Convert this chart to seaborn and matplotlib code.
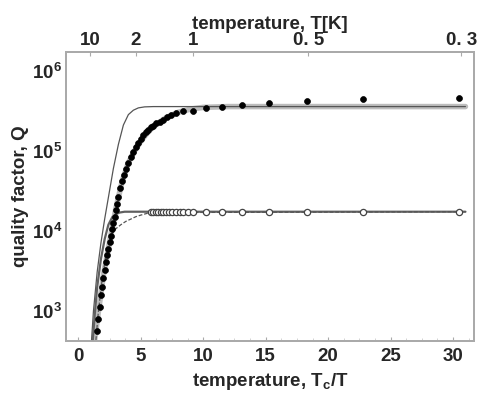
import numpy as np
import pandas as pd
import matplotlib
matplotlib.use("Agg")
import matplotlib.pyplot as plt
import seaborn as sns

sns.set_style("white")
plt.rcParams['font.family'] = ['Liberation Sans', 'DejaVu Sans']
plt.rcParams['font.weight'] = 'bold'
plt.rcParams['mathtext.fontset'] = 'custom'
plt.rcParams['mathtext.rm'] = 'Liberation Sans:bold'
plt.rcParams['mathtext.it'] = 'Liberation Sans:bold'
plt.rcParams['mathtext.bf'] = 'Liberation Sans:bold'

# ---- data (x = Tc/T, Q) ----
filled_x = [1.5, 1.6, 1.7, 1.8, 1.9, 2.0, 2.1, 2.2, 2.3, 2.4, 2.5, 2.6, 2.7, 2.8, 2.9,
            3.0, 3.1, 3.2, 3.35, 3.5, 3.65, 3.8, 4.0, 4.2, 4.4, 4.6, 4.8, 5.0, 5.2, 5.4,
            5.6, 5.8, 6.0, 6.25, 6.5, 6.8, 7.1, 7.4, 7.8, 8.4, 9.2, 10.2, 11.5, 13.1,
            15.3, 18.3, 22.8, 30.5]
filled_q = [562, 794, 1122, 1585, 1995, 2630, 3311, 4169, 5012, 6026, 7244, 8710, 10470,
            12590, 15140, 18200, 21880, 26300, 33900, 41700, 50100, 58900, 70800, 83200,
            97700, 112000, 126000, 141000, 155000, 170000, 182000, 195000, 204000, 219000,
            229000, 245000, 263000, 275000, 295000, 309000, 316000, 339000, 355000, 372000,
            398000, 417000, 437000, 457000]

open_x = [5.8, 6.0, 6.2, 6.4, 6.6, 6.8, 7.0, 7.25, 7.5, 7.8, 8.1, 8.4, 8.8, 9.2, 10.2,
          11.5, 13.1, 15.3, 18.3, 22.8, 30.5]
open_q = [17200, 17300, 17300, 17400, 17400, 17400, 17400, 17400, 17400, 17400, 17400,
          17400, 17400, 17400, 17400, 17400, 17400, 17400, 17400, 17400, 17400]

# fit curves
fitA_x = [1.05, 1.2, 1.5, 1.8, 2.1, 2.4, 2.8, 3.2, 3.6, 4.0, 4.4, 4.8, 5.3, 6.0, 31.0]
fitA_q = [440, 1000, 3090, 7080, 14100, 26300, 60300, 120000, 209000, 282000, 320000,
          342000, 352000, 355000, 355000]
fitB_x = [1.3, 1.6, 2.0, 2.5, 3.0, 3.5, 4.0, 4.5, 5.0, 5.5, 6.0, 7.0, 8.0, 9.0, 10.0, 12.0, 31.0]
fitB_q = [440, 1000, 2820, 7410, 19100, 41700, 70800, 100000, 132000, 166000, 200000,
          257000, 302000, 331000, 347000, 355000, 355000]
fitC_x = [1.15, 1.3, 1.5, 1.8, 2.1, 2.4, 2.7, 3.0, 3.3, 3.7, 4.5, 6.0, 31.0]
fitC_q = [440, 890, 2000, 4470, 7940, 12000, 14800, 16200, 17000, 17400, 17400, 17400, 17400]
fitD_x = [1.4, 1.6, 1.9, 2.2, 2.6, 3.0, 3.4, 3.8, 4.2, 4.6, 5.0, 5.5, 6.5, 31.0]
fitD_q = [440, 1000, 2510, 5010, 8910, 10700, 12000, 13200, 14100, 15100, 15800, 16600,
          17000, 17400]

Tc = 9.2
top_labels = ["10", "2", "1", "0. 5", "0. 3"]
top_T = [10, 2, 1, 0.5, 0.3]

bottom_ticks = [0, 5, 10, 15, 20, 25, 30]

fig = plt.figure(figsize=(4.78, 3.97), dpi=100)
ax = fig.add_axes([0.138, 0.141, 0.854, 0.728])

sns.lineplot(x=fitB_x, y=fitB_q, ax=ax, color="#bdbdbd", lw=4.0, zorder=2)
sns.lineplot(x=fitA_x, y=fitA_q, ax=ax, color="#555555", lw=0.9, zorder=3)
sns.lineplot(x=fitC_x, y=fitC_q, ax=ax, color="#606060", lw=1.6, zorder=3)
sns.lineplot(x=fitD_x, y=fitD_q, ax=ax, color="#555555", lw=0.9, ls=(0, (3, 1.5)), zorder=3)

sns.scatterplot(x=filled_x, y=filled_q, ax=ax, color="black", s=18, marker="o",
                edgecolor="black", linewidth=0.5, zorder=5)
sns.scatterplot(x=open_x, y=open_q, ax=ax, facecolor="white", s=20, marker="o",
                edgecolor="#444444", linewidth=0.9, zorder=5)

ax.set_yscale("log")
ax.set_xlim(-1.0, 31.7)
ax.set_ylim(10**2.63, 10**6.23)
ax.set_xticks(bottom_ticks)
ax.set_xticklabels([str(t) for t in bottom_ticks])
ax.set_yticks([1e3, 1e4, 1e5, 1e6])
ax.set_yticklabels([r"$10^{3}$", r"$10^{4}$", r"$10^{5}$", r"$10^{6}$"])
ax.yaxis.set_minor_locator(matplotlib.ticker.NullLocator())
ax.xaxis.set_minor_locator(matplotlib.ticker.MultipleLocator(1.25))

for s in ax.spines.values():
    s.set_color("#aaaaaa")
    s.set_linewidth(1.3)
ax.tick_params(axis="both", which="major", direction="in", length=3, color="#aaaaaa",
               labelsize=13.5, pad=3)
ax.tick_params(axis="x", which="major", pad=5)
ax.tick_params(axis="x", which="minor", direction="in", length=2, color="#cccccc")
ax.set_xlabel("temperature, T$_c$/T", fontsize=13.5, fontweight="bold", labelpad=4)
ax.set_ylabel("quality factor, Q", fontsize=13.5, fontweight="bold", labelpad=2)

top = ax.twiny()
top.set_xlim(ax.get_xlim())
top.set_xticks([Tc / t for t in top_T])
top.set_xticklabels(top_labels)
top.tick_params(axis="x", direction="in", length=3, color="#aaaaaa", labelsize=13.5, pad=2)
top.set_xlabel("temperature, T[K]", fontsize=13.5, fontweight="bold", labelpad=2)
for s in top.spines.values():
    s.set_color("#aaaaaa")
    s.set_linewidth(1.3)

fig.savefig("out.png", dpi=100)
